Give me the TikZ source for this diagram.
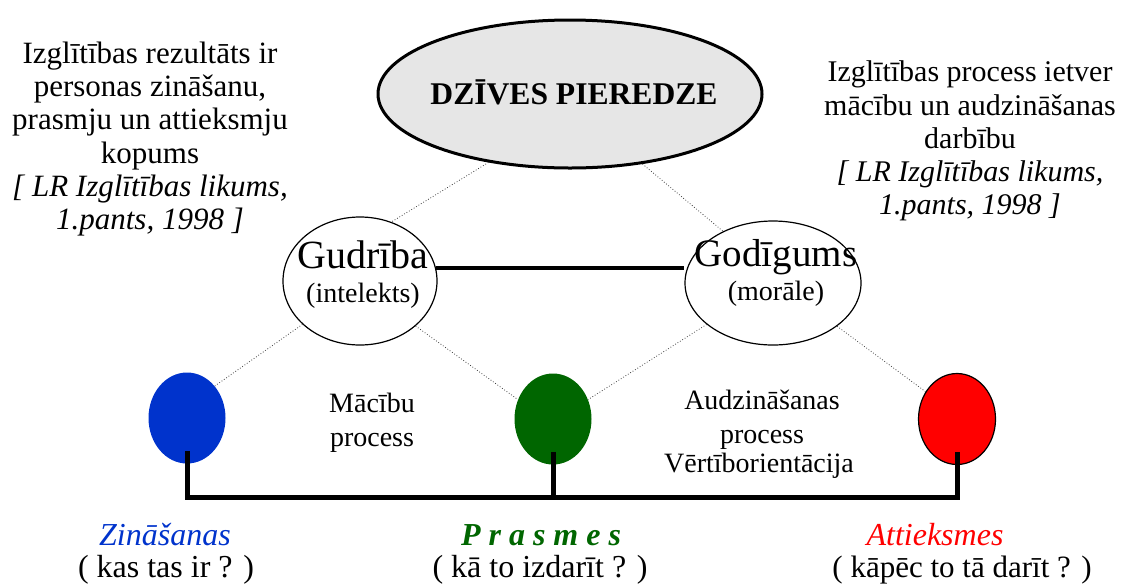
\documentclass[tikz,border=0pt]{standalone}
\usepackage{fontspec}
\setmainfont{Liberation Serif}
\usetikzlibrary{shapes.geometric}
\definecolor{zinblue}{HTML}{0033CC}
\definecolor{prasgreen}{HTML}{006600}
\definecolor{attred}{HTML}{FF0000}
\definecolor{lifegray}{HTML}{E6E6E6}

\begin{document}
\begin{tikzpicture}[
		x=0.5pt, y=-0.5pt,
		oval/.style={ellipse, draw=black, fill=white, line width=0.6pt, inner sep=0pt},
		ball/.style={ellipse, inner sep=0pt, minimum width=38.5pt, minimum height=45.5pt},
		link/.style={densely dotted, line width=0.4pt, black!75},
		bar/.style={line width=2.5pt},
		txt/.style={align=center, inner sep=0pt, font=\fontsize{15.5}{16.6}\selectfont},
		mid/.style={align=center, inner sep=0pt, font=\fontsize{14}{17}\selectfont},
		low/.style={inner sep=0pt, font=\fontsize{16}{18}\selectfont}
	]
		\useasboundingbox (0,0) rectangle (1123,585);

		% top and the two ovals
		\node[oval, fill=lifegray, line width=1.5pt, minimum width=192pt, minimum height=74pt](life) at (570,94){};
		\node[inner sep=0pt, font=\fontsize{15.8}{17}\selectfont\bfseries](life-txt) at (574,92){DZĪVES PIEREDZE};
		\node[oval, minimum width=77pt, minimum height=64pt](gud) at (360,281){};
		\node[mid](gud-txt) at (363,275){{\fontsize{20}{20}\selectfont Gudrība}\\(intelekts)};
		\node[oval, minimum width=88pt, minimum height=62pt](god) at (773,283){};
		\node[mid](god-txt) at (776,273){{\fontsize{19.5}{20}\selectfont Godīgums}\\(morāle)};

		% side quotes
		\node[txt](left-txt) at (150,139){Izglītības rezultāts ir\\personas zināšanu,\\prasmju un attieksmju\\kopums\\\itshape [ LR Izglītības likums,\\\itshape 1.pants, 1998 ]};
		\node[txt, font=\fontsize{15}{16.6}\selectfont](right-txt) at (970,141){Izglītības process ietver\\mācību un audzināšanas\\darbību\\\itshape [ LR Izglītības likums,\\\itshape 1.pants, 1998 ]};

		% three balls
		\node[ball, fill=zinblue](blue) at (187,418){};
		\node[ball, fill=prasgreen](green) at (553,419){};
		\node[ball, fill=attred, draw=black, line width=0.6pt](red) at (957,419){};

		\node[mid](macibu) at (372,423){Mācību\\process};
		\node[mid](audz) at (762,420){Audzināšanas\\process};
		\node[mid](vert) at (759,466){Vērtīborientācija};

		\draw[link](life.220) -- (gud.62);
		\draw[link](life.316) -- (god.134);
		\draw[link](gud.217) -- (blue.49);
		\draw[link](gud.321) -- (green.151);
		\draw[link](god.212) -- (green.29);
		\draw[link](god.326) -- (red.139);
		\draw[line width=2pt](gud.10) -- (gud.10 -| god.west);

		% bottom bar
		\coordinate(base) at (0,497);
		\draw[bar]([yshift=6.5pt]blue.south) -- (blue |- base) -- (red |- base) -- ([yshift=6.5pt]red.south);
		\draw[bar]([yshift=6.5pt]green.south) -- (green |- base);

		\node[low, text=zinblue, font=\fontsize{16}{18}\selectfont\itshape](zin) at (165,535){Zināšanas};
		\node[low](zin-q) at (166,570){( kas tas ir ? )};
		\node[low, text=prasgreen, font=\fontsize{16}{18}\selectfont\bfseries\itshape](pras) at (541,535){P r a s m e s};
		\node[low](pras-q) at (540,570){( kā to izdarīt ? )};
		\node[low, text=attred, font=\fontsize{16}{18}\selectfont\itshape](att) at (935,535){Attieksmes};
		\node[low, font=\fontsize{15.5}{18}\selectfont](att-q) at (962,570){( kāpēc to tā darīt ? )};
	\end{tikzpicture}
\end{document}
